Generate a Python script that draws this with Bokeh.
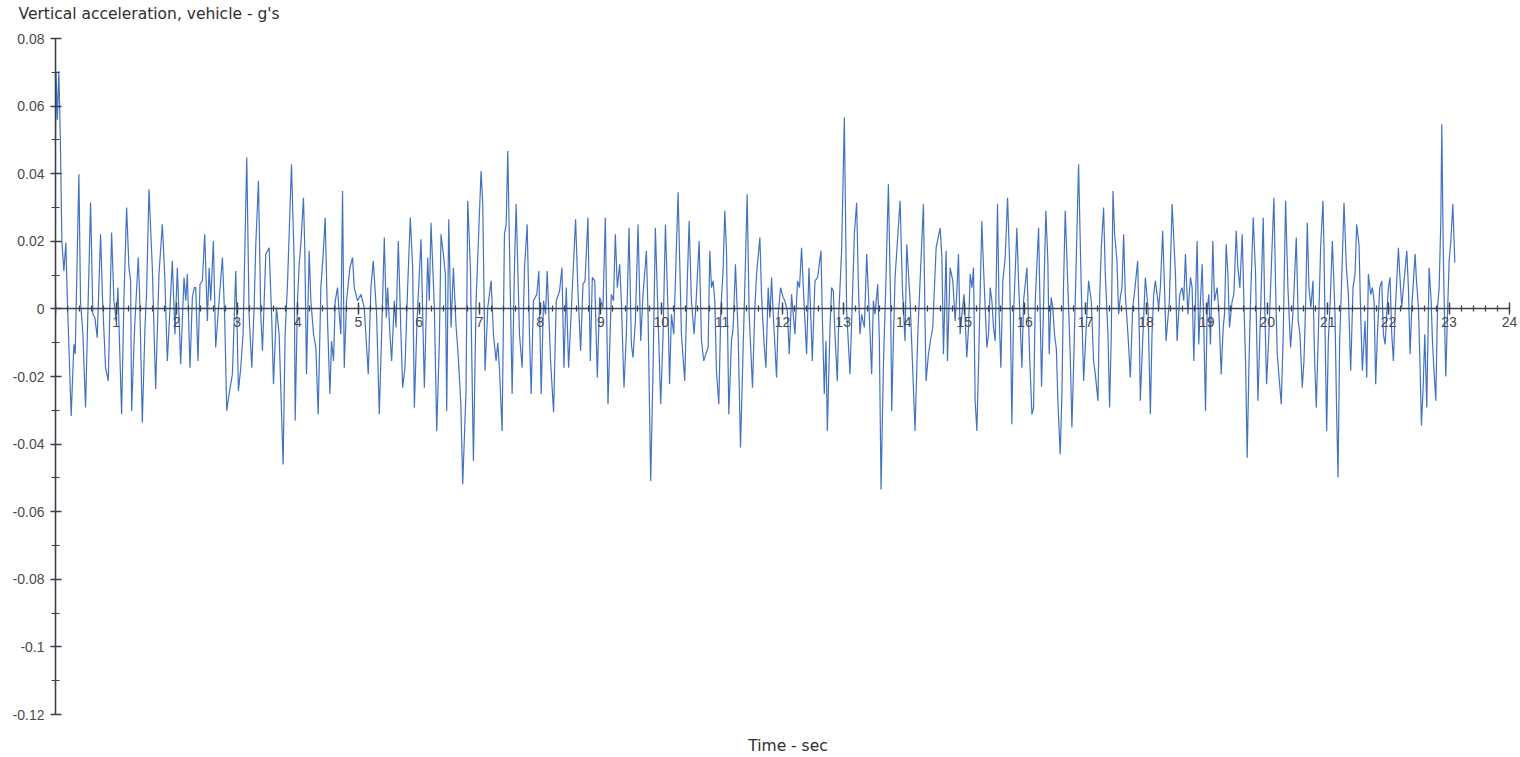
from bokeh.plotting import figure
from bokeh.models import (ColumnDataSource, LinearAxis, FixedTicker, Title,
                          Range1d, CustomJSTickFormatter)
from bokeh.embed import file_html
from bokeh.resources import INLINE

# Vehicle vertical acceleration trace (time in seconds, acceleration in g)
time_s = [
    0.000, 0.008, 0.030, 0.055, 0.080, 0.105, 0.138, 0.171, 0.193, 0.259,
    0.303, 0.325, 0.386, 0.413, 0.452, 0.496, 0.579, 0.617, 0.650, 0.689,
    0.744, 0.777, 0.826, 0.871, 0.926, 0.964, 1.003, 1.030, 1.091, 1.129,
    1.174, 1.212, 1.240, 1.256, 1.306, 1.366, 1.388, 1.433, 1.477, 1.504,
    1.543, 1.598, 1.653, 1.708, 1.763, 1.802, 1.846,
    1.928, 1.972, 2.011, 2.066, 2.121, 2.150, 2.176, 2.220, 2.259, 2.290,
    2.314, 2.352, 2.385, 2.424, 2.463, 2.507, 2.535, 2.562, 2.606, 2.644,
    2.700, 2.755, 2.793, 2.826, 2.865, 2.920, 2.975, 3.000, 3.019, 3.058,
    3.096, 3.157, 3.195, 3.240, 3.278, 3.306, 3.350, 3.388, 3.416, 3.471,
    3.526, 3.570, 3.598, 3.647, 3.691, 3.757, 3.790, 3.829, 3.895,
    3.939, 3.956, 3.994, 4.022, 4.049, 4.093, 4.115, 4.143, 4.187, 4.215,
    4.259, 4.297, 4.336, 4.380, 4.418, 4.451, 4.490, 4.529, 4.556, 4.589,
    4.617, 4.655, 4.683, 4.710, 4.738, 4.766, 4.804, 4.859, 4.903, 4.931,
    4.986, 5.041, 5.096, 5.162, 5.206, 5.245, 5.300, 5.344, 5.383, 5.427,
    5.460, 5.482, 5.520, 5.548, 5.592, 5.620, 5.658, 5.702, 5.730, 5.768,
    5.812, 5.856, 5.895, 5.923, 5.967,
    6.033, 6.088, 6.143, 6.170, 6.198, 6.253, 6.292, 6.336, 6.363, 6.402,
    6.435, 6.457, 6.490, 6.529, 6.567, 6.611, 6.640, 6.666, 6.690, 6.721,
    6.776, 6.804, 6.848, 6.898, 6.942, 7.024, 7.052, 7.090, 7.135, 7.190,
    7.228, 7.272, 7.300, 7.327, 7.371, 7.410, 7.438, 7.465, 7.504, 7.537,
    7.575, 7.603, 7.658, 7.702, 7.741, 7.785, 7.823, 7.851, 7.889, 7.944,
    7.978, 8.016, 8.055, 8.088,
    8.116, 8.171, 8.221, 8.265, 8.320, 8.359, 8.392, 8.430, 8.469, 8.513,
    8.584, 8.623, 8.667, 8.706, 8.740, 8.788, 8.827, 8.860, 8.900, 8.943,
    8.981, 9.036, 9.075, 9.119, 9.174, 9.210, 9.240, 9.273, 9.312, 9.339,
    9.383, 9.422, 9.466, 9.505, 9.532, 9.571, 9.615, 9.659, 9.697, 9.753,
    9.780, 9.824, 9.863, 9.901, 9.934, 9.989, 10.028, 10.067, 10.111,
    10.135, 10.166, 10.204, 10.276, 10.331, 10.386, 10.425, 10.458, 10.496,
    10.540, 10.568, 10.623, 10.662, 10.700, 10.733, 10.772, 10.799, 10.827,
    10.854, 10.882, 10.909, 10.948, 10.981, 11.020, 11.047, 11.075, 11.113,
    11.157, 11.185, 11.223, 11.267, 11.306, 11.350, 11.378, 11.416, 11.449,
    11.504, 11.543, 11.571, 11.626, 11.653, 11.692, 11.725, 11.763, 11.791,
    11.819, 11.846, 11.901, 11.929, 11.967, 12.011, 12.039, 12.078, 12.111,
    12.149,
    12.204, 12.248, 12.280, 12.314, 12.353, 12.397, 12.436, 12.465, 12.491,
    12.535, 12.579, 12.634, 12.656, 12.689, 12.717, 12.739, 12.783, 12.810,
    12.838, 12.865, 12.904, 12.931, 12.975, 13.020, 13.058, 13.113, 13.152,
    13.185, 13.223, 13.251, 13.278, 13.306, 13.350, 13.389, 13.427, 13.471,
    13.499, 13.526, 13.571, 13.598, 13.626, 13.664, 13.703, 13.747, 13.785,
    13.802, 13.829, 13.857, 13.940, 13.978, 14.022, 14.050, 14.105, 14.187,
    14.232, 14.270, 14.325, 14.350, 14.369, 14.408, 14.440, 14.479, 14.535,
    14.601, 14.630, 14.656, 14.700, 14.722, 14.766, 14.810, 14.849, 14.875,
    14.904, 14.931, 14.960, 14.997, 15.041, 15.070, 15.097, 15.125, 15.152,
    15.179, 15.207, 15.234, 15.289, 15.317, 15.372, 15.400, 15.427, 15.455,
    15.482, 15.510, 15.548, 15.575, 15.603, 15.636, 15.675, 15.714, 15.747,
    15.785, 15.813, 15.868, 15.895, 15.951, 15.978, 16.033, 16.080, 16.116,
    16.143, 16.171, 16.226,
    16.275, 16.346, 16.379, 16.401, 16.434, 16.460, 16.489, 16.520, 16.544,
    16.583, 16.611, 16.638, 16.666, 16.710, 16.748, 16.776, 16.803, 16.831,
    16.886, 16.930, 16.969, 17.007, 17.051, 17.095, 17.134, 17.162, 17.206,
    17.233, 17.261, 17.299, 17.327, 17.371, 17.398, 17.426, 17.454, 17.481,
    17.520, 17.547, 17.575, 17.602, 17.630, 17.657, 17.701, 17.740, 17.779,
    17.812, 17.861, 17.889, 17.905, 17.944, 17.988, 18.032, 18.071, 18.098,
    18.126, 18.153, 18.208, 18.236, 18.274, 18.308, 18.330, 18.385,
    18.430, 18.485, 18.512, 18.556, 18.595, 18.622, 18.650, 18.689, 18.733,
    18.760, 18.788, 18.815, 18.843, 18.870, 18.898, 18.926, 18.953, 18.981,
    19.008, 19.036, 19.063, 19.102, 19.129, 19.173, 19.201, 19.240, 19.273,
    19.295, 19.322, 19.350, 19.377, 19.421, 19.449, 19.488, 19.515, 19.548,
    19.587, 19.614, 19.642, 19.669, 19.697, 19.724, 19.769, 19.807, 19.846,
    19.879, 19.934, 19.956, 19.989, 20.027, 20.055, 20.110, 20.138, 20.165,
    20.231, 20.264, 20.303, 20.341, 20.385, 20.430,
    20.479, 20.512, 20.540, 20.578, 20.606, 20.635, 20.661, 20.688, 20.720,
    20.755, 20.782, 20.810, 20.843, 20.881, 20.920, 20.936, 20.960, 20.981,
    21.008, 21.040, 21.074, 21.095, 21.118, 21.146, 21.168, 21.195, 21.228,
    21.267, 21.306, 21.339, 21.377, 21.416, 21.449, 21.476, 21.515, 21.542,
    21.570, 21.614, 21.642, 21.669, 21.708, 21.735, 21.763, 21.790, 21.818,
    21.857, 21.890, 21.917, 21.945, 21.972, 22.000, 22.027, 22.055, 22.082,
    22.110, 22.165, 22.187, 22.220, 22.248, 22.303, 22.330, 22.358, 22.385,
    22.441, 22.463, 22.496, 22.523, 22.545, 22.573, 22.600, 22.633, 22.672,
    22.705, 22.727, 22.755, 22.782, 22.810, 22.837, 22.865, 22.881, 22.903,
    22.920, 22.947, 22.975, 23.002, 23.030, 23.063, 23.096,
]

accel_g = [
    0.0500, 0.0704, 0.0560, 0.0704, 0.0500, 0.0201, 0.0112, 0.0196, 0.0043, -0.0317,
    -0.0105, -0.0134, 0.0398, 0.0024, -0.0075, -0.0292, 0.0315, -0.0016, -0.0026, -0.0085,
    0.0221, 0.0024, -0.0174, -0.0213, 0.0226, 0.0024, -0.0036, 0.0063, -0.0312, 0.0024,
    0.0300, 0.0122, 0.0083, -0.0302, -0.0055, 0.0152, 0.0043, -0.0336, -0.0055, 0.0053,
    0.0354, 0.0122, -0.0238, 0.0103, 0.0250, 0.0103, -0.0154,
    0.0142, -0.0075, 0.0122, -0.0164, 0.0093, 0.0024, 0.0103, -0.0174, 0.0034, 0.0063,
    0.0063, -0.0154, 0.0073, 0.0083, 0.0221, -0.0036, 0.0122, 0.0024, 0.0201, -0.0114,
    0.0024, 0.0152, -0.0026, -0.0302, -0.0252, -0.0193, 0.0112, -0.0075, -0.0243, -0.0174,
    -0.0075, 0.0448, -0.0016, -0.0174, 0.0004, 0.0191, 0.0379, -0.0016, -0.0124, 0.0162,
    0.0181, -0.0036, -0.0223, 0.0004, -0.0075, -0.0460, -0.0075, 0.0073, 0.0428,
    0.0142, -0.0331, 0.0024, 0.0132, 0.0191, 0.0329, 0.0172, -0.0193, 0.0172, 0.0024,
    -0.0075, -0.0114, -0.0312, 0.0063, 0.0162, 0.0270, -0.0036, -0.0252, -0.0095, -0.0154,
    0.0024, 0.0063, -0.0016, -0.0075, 0.0349, -0.0174, 0.0024, 0.0122, 0.0152, 0.0063,
    0.0024, 0.0043, 0.0004, -0.0193, 0.0063, 0.0142, -0.0016, -0.0312, -0.0075, 0.0211,
    -0.0026, 0.0063, -0.0075, -0.0154, 0.0024, -0.0055, 0.0201, -0.0075, -0.0233, -0.0174,
    0.0063, 0.0270, 0.0122, -0.0292, -0.0036,
    0.0206, -0.0233, 0.0152, 0.0024, 0.0255, 0.0004, -0.0361, -0.0095, 0.0221, 0.0162,
    0.0103, -0.0302, 0.0265, -0.0055, 0.0122, -0.0050, -0.0120, -0.0200, -0.0280, -0.0519,
    -0.0243, 0.0320, 0.0122, -0.0450, 0.0024, 0.0408, 0.0310, -0.0183, 0.0004, 0.0083,
    -0.0075, -0.0154, -0.0100, -0.0174, -0.0361, 0.0221, 0.0250, 0.0467, 0.0073, -0.0252,
    0.0122, 0.0310, -0.0075, -0.0174, 0.0122, 0.0250, -0.0075, -0.0252, 0.0024, 0.0043,
    0.0112, -0.0252, 0.0024, -0.0016,
    0.0112, -0.0154, -0.0306, 0.0024, 0.0053, 0.0122, -0.0174, 0.0063, -0.0174, -0.0006,
    0.0265, 0.0053, -0.0124, 0.0073, 0.0083, 0.0270, -0.0154, 0.0093, 0.0083, -0.0203,
    0.0034, 0.0004, 0.0270, -0.0282, 0.0043, 0.0024, 0.0221, 0.0063, 0.0132, 0.0024,
    -0.0233, -0.0075, 0.0240, -0.0105, -0.0144, -0.0036, 0.0250, -0.0095, 0.0043, 0.0172,
    -0.0016, -0.0509, -0.0174, 0.0240, 0.0043, -0.0282, -0.0075, 0.0250, -0.0016,
    -0.0223, -0.0016, -0.0075, 0.0345, -0.0075, -0.0213, 0.0063, 0.0260, 0.0024,
    -0.0075, 0.0004, 0.0201, -0.0095, -0.0154, -0.0134, -0.0114, 0.0172, 0.0063,
    0.0083, 0.0024, -0.0183, -0.0282, -0.0006, 0.0122, 0.0290, 0.0172, -0.0312,
    -0.0095, -0.0055, 0.0132, -0.0075, -0.0410, -0.0114, 0.0073, 0.0339, -0.0016,
    -0.0233, 0.0004, 0.0103, 0.0211, 0.0043, -0.0095, -0.0174, 0.0063, -0.0026,
    0.0093, -0.0016, -0.0203, -0.0016, 0.0063, 0.0034, 0.0024, -0.0006, -0.0134,
    0.0043,
    -0.0075, 0.0083, 0.0063, 0.0181, 0.0024, -0.0134, 0.0122, -0.0016, -0.0154,
    0.0083, 0.0093, 0.0172, -0.0016, -0.0252, -0.0095, -0.0361, -0.0055, 0.0063,
    0.0053, -0.0075, -0.0213, -0.0006, 0.0172, 0.0566, -0.0006, -0.0193, 0.0024,
    0.0221, 0.0314, 0.0073, -0.0075, -0.0016, -0.0055, 0.0162, 0.0004, -0.0193,
    0.0024, -0.0016, 0.0073, -0.0095, -0.0534, -0.0174, 0.0063, 0.0369, 0.0004,
    -0.0302, -0.0095, 0.0093, 0.0320, 0.0063, -0.0095, 0.0191, 0.0024, -0.0361,
    -0.0075, 0.0083, 0.0310, -0.0016, -0.0213, -0.0134, -0.0095, -0.0055, 0.0181,
    0.0240, 0.0152, -0.0134, 0.0172, -0.0154, 0.0122, 0.0083, -0.0036, 0.0043,
    0.0162, -0.0075, -0.0016, 0.0043, -0.0144, -0.0055, 0.0103, 0.0063, 0.0122,
    -0.0272, -0.0361, -0.0174, 0.0260, 0.0122, -0.0114, -0.0075, 0.0063, 0.0024,
    -0.0055, -0.0095, 0.0310, -0.0016, -0.0174, 0.0083, 0.0152, 0.0329, 0.0142,
    -0.0341, -0.0016, 0.0240, 0.0083, -0.0174, 0.0024, 0.0122, -0.0150, -0.0312,
    -0.0292, 0.0024, 0.0240,
    -0.0230, 0.0290, 0.0142, -0.0134, 0.0034, 0.0004, -0.0075, -0.0120, -0.0272,
    -0.0430, -0.0252, 0.0073, 0.0290, 0.0063, -0.0134, -0.0351, -0.0174, 0.0024,
    0.0428, 0.0063, -0.0213, -0.0075, 0.0083, 0.0024, -0.0154, -0.0193, -0.0272,
    0.0024, 0.0181, 0.0300, 0.0103, -0.0075, -0.0292, -0.0075, 0.0349, 0.0221,
    0.0142, -0.0016, 0.0034, 0.0063, 0.0221, 0.0043, -0.0075, -0.0203, 0.0004,
    0.0053, 0.0142, -0.0075, -0.0272, -0.0095, 0.0093, 0.0004, -0.0312, -0.0075,
    0.0043, 0.0083, 0.0004, 0.0063, 0.0231, 0.0043, -0.0095, 0.0024,
    0.0310, 0.0103, -0.0095, 0.0043, 0.0063, 0.0024, 0.0162, -0.0016, 0.0093,
    0.0063, -0.0154, 0.0024, 0.0201, -0.0105, 0.0024, 0.0132, -0.0055, -0.0302,
    -0.0006, 0.0043, -0.0105, 0.0201, 0.0024, 0.0063, -0.0006, -0.0193, -0.0055,
    -0.0016, 0.0191, 0.0103, -0.0055, 0.0024, 0.0043, 0.0231, 0.0122, 0.0063,
    0.0221, 0.0024, -0.0154, -0.0440, -0.0174, 0.0024, 0.0270, 0.0103, -0.0272,
    -0.0075, 0.0270, 0.0024, -0.0223, -0.0075, 0.0063, 0.0329, 0.0063, -0.0134,
    -0.0282, -0.0075, 0.0320, 0.0063, -0.0114, 0.0004,
    0.0211, -0.0036, -0.0075, -0.0233, -0.0154, 0.0024, 0.0255, 0.0063, 0.0004,
    0.0083, -0.0154, -0.0292, -0.0075, 0.0181, 0.0320, 0.0181, -0.0134, -0.0361,
    -0.0095, 0.0024, 0.0201, 0.0103, -0.0016, -0.0312, -0.0499, -0.0095, 0.0083,
    0.0314, 0.0122, 0.0043, -0.0183, 0.0063, 0.0103, 0.0250, 0.0191, -0.0016,
    -0.0183, -0.0036, -0.0203, 0.0103, 0.0043, 0.0063, 0.0024, -0.0223, -0.0075,
    0.0063, 0.0083, -0.0075, -0.0105, -0.0016, 0.0063, 0.0093, -0.0075, -0.0154,
    -0.0016, 0.0181, 0.0103, 0.0004, 0.0063, 0.0172, 0.0063, -0.0134, 0.0004,
    0.0162, 0.0083, 0.0004, -0.0174, -0.0345, -0.0233, -0.0075, -0.0292, 0.0122,
    0.0024, -0.0095, -0.0193, -0.0272, 0.0004, 0.0063, 0.0260, 0.0546, 0.0201,
    0.0024, -0.0200, -0.0016, 0.0142, 0.0201, 0.0310, 0.0137,
]

# Axis ticks and their labels
x_tick_values = list(range(0, 25))
x_tick_labels = [""] + [str(v) for v in range(1, 25)]
y_tick_values = [-0.12, -0.1, -0.08, -0.06, -0.04, -0.02, 0, 0.02, 0.04, 0.06, 0.08]
y_tick_labels = ["-0.12", "-0.1", "-0.08", "-0.06", "-0.04", "-0.02", "0",
                 "0.02", "0.04", "0.06", "0.08"]

chart_title = "Vertical acceleration, vehicle - g's"
x_title = "Time - sec"

TEXT_FONT = "Liberation Sans"
TITLE_FONT = "DejaVu Sans"
AXIS_COLOR = "#39414d"
LABEL_COLOR = "#4a4a4a"
TITLE_COLOR = "#2e2e2e"

X_END = 24.18
p = figure(width=1520, height=757, output_backend="svg", toolbar_location=None,
           x_range=Range1d(0, X_END), y_range=Range1d(-0.12, 0.08),
           x_axis_type=None, y_axis_type=None, title=None,
           min_border_left=55, min_border_right=0,
           min_border_top=38, min_border_bottom=43)
p.outline_line_color = None
p.background_fill_color = "white"
p.border_fill_color = "white"

src = ColumnDataSource(dict(t=time_s, g=accel_g))
p.line("t", "g", source=src, line_color="#4272c2", line_width=1.2)

label_js = ("const i = values.findIndex(v => Math.abs(v - tick) < 1e-9);"
            "return i >= 0 ? labels[i] : '';")

# Horizontal time axis crossing at zero acceleration
xaxis = LinearAxis(fixed_location=0, bounds=(0, 24))
xaxis.ticker = FixedTicker(ticks=x_tick_values,
                           minor_ticks=[k * 0.2 for k in range(0, 121)])
xaxis.formatter = CustomJSTickFormatter(args=dict(values=x_tick_values, labels=x_tick_labels),
                                        code=label_js)
xaxis.axis_line_color = AXIS_COLOR
xaxis.axis_line_width = 1.6
xaxis.major_tick_line_color = AXIS_COLOR
xaxis.major_tick_line_width = 1.4
xaxis.major_tick_in = 6
xaxis.major_tick_out = 6
xaxis.minor_tick_line_color = AXIS_COLOR
xaxis.minor_tick_line_width = 1.2
xaxis.minor_tick_in = 3
xaxis.minor_tick_out = 3
xaxis.major_label_standoff = 2
xaxis.major_label_text_font = TEXT_FONT
xaxis.major_label_text_font_size = "14px"
xaxis.major_label_text_color = LABEL_COLOR
p.add_layout(xaxis, "below")

# Bottom strip carrying only the time-axis title
xtitle_axis = LinearAxis(ticker=FixedTicker(ticks=[]), axis_label=x_title,
                         axis_line_color=None, major_tick_in=0, major_tick_out=0,
                         minor_tick_in=0, minor_tick_out=0,
                         major_label_text_alpha=0, axis_label_standoff=22,
                         axis_label_text_font=TITLE_FONT,
                         axis_label_text_font_size="15.5px",
                         axis_label_text_font_style="normal",
                         axis_label_text_color=TITLE_COLOR)
p.add_layout(xtitle_axis, "below")

# Vertical acceleration axis
yaxis = LinearAxis()
yaxis.ticker = FixedTicker(ticks=y_tick_values,
                           minor_ticks=[-0.12 + k * 0.01 for k in range(0, 21)])
yaxis.formatter = CustomJSTickFormatter(args=dict(values=y_tick_values, labels=y_tick_labels),
                                        code=label_js)
yaxis.axis_line_color = AXIS_COLOR
yaxis.axis_line_width = 1.6
yaxis.major_tick_line_color = AXIS_COLOR
yaxis.major_tick_line_width = 1.4
yaxis.major_tick_in = 6
yaxis.major_tick_out = 5
yaxis.minor_tick_line_color = AXIS_COLOR
yaxis.minor_tick_line_width = 1.2
yaxis.minor_tick_in = 4
yaxis.minor_tick_out = 4
yaxis.major_label_standoff = 6
yaxis.major_label_text_font = TEXT_FONT
yaxis.major_label_text_font_size = "14px"
yaxis.major_label_text_color = LABEL_COLOR
p.add_layout(yaxis, "left")

# Top strip: a blank gap next to the frame, then the chart title further out
p.add_layout(Title(text=" ", text_font_size="8px", standoff=3), "above")
p.add_layout(Title(text=chart_title, align="left", offset=-37, vertical_align="top",
                   text_font=TITLE_FONT, text_font_size="15.5px",
                   text_font_style="normal", text_color=TITLE_COLOR, standoff=0), "above")

open("out.html", "w").write(file_html(p, INLINE))
